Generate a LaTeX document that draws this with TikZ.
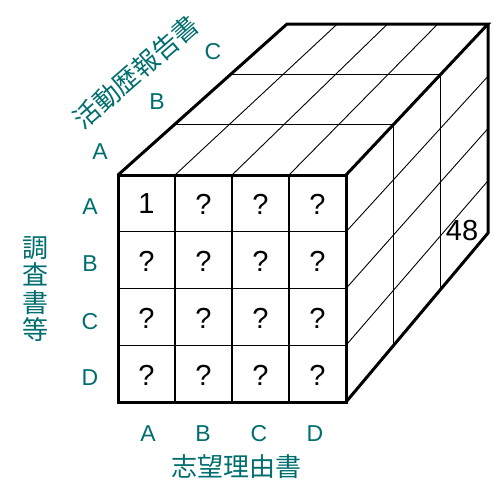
\documentclass[tikz,border=0pt]{standalone}
\usepackage{fontspec}
\setmainfont{Liberation Sans}
\newfontfamily\jpfont{Noto Sans CJK JP}
\usetikzlibrary{calc}
\definecolor{teal}{RGB}{0,110,110}
\tikzset{
  edge/.style={line width=3pt, line join=miter},
  grid/.style={line width=1.4pt},
  thin/.style={line width=0.9pt},
  axislbl/.style={text=teal, font=\fontsize{23}{23}\selectfont, inner sep=0pt},
  axisttl/.style={text=teal, font=\jpfont\fontsize{26}{27.5}\selectfont, inner sep=0pt},
  cell/.style={font=\fontsize{29}{29}\selectfont, inner sep=0pt}
}
\begin{document}
\begin{tikzpicture}[x=1pt,y=-1pt]
\useasboundingbox (0,0) rectangle (497,480);
% corners
\coordinate (FTL) at (118,175);
\coordinate (FTR) at (346,175);
\coordinate (FBR) at (346,402);
\coordinate (FBL) at (118,402);
\coordinate (BTL) at (287,24);
\coordinate (BTR) at (488,24);
\coordinate (BBR) at (488,233);
% front grid
\foreach \k in {1,2,3}{
  \draw[grid] ($(FTL)!\k/4!(FTR)$) -- ($(FBL)!\k/4!(FBR)$);
  \draw[grid] ($(FTL)!\k/4!(FBL)$) -- ($(FTR)!\k/4!(FBR)$);
  % top face diagonals
  \draw[thin] ($(FTL)!\k/4!(FTR)$) -- ($(BTL)!\k/4!(BTR)$);
  % right face diagonals
  \draw[thin] ($(FTR)!\k/4!(FBR)$) -- ($(BTR)!\k/4!(BBR)$);
}
\foreach \j in {1,2}{
  \draw[grid] ($(FTL)!\j/3!(BTL)$) -- ($(FTR)!\j/3!(BTR)$);
  \draw[grid] ($(FTR)!\j/3!(BTR)$) -- ($(FBR)!\j/3!(BBR)$);
}
% outer edges
\draw[edge] (FTL) -- (FTR) -- (FBR) -- (FBL) -- cycle;
\draw[edge] (FTL) -- (BTL) -- (BTR) -- (FTR);
\draw[edge] (BTR) -- (BBR) -- (FBR);
% cell contents
\node[cell] (c11) at (146.5,204) {1};
\foreach \i/\x in {2/203.5,3/260.5,4/317.5}{
  \node[cell] (c1\i) at (\x,204) {?};
}
\foreach \r/\y in {2/261,3/318,4/375}{
  \foreach \i/\x in {1/146.5,2/203.5,3/260.5,4/317.5}{
    \node[cell] (c\r\i) at (\x,\y) {?};
  }
}
\node[cell] (n48) at (462,231) {48};
% left axis
\node[axislbl] (lA) at (90,207) {A};
\node[axislbl] (lB) at (90,264) {B};
\node[axislbl] (lC) at (90,322) {C};
\node[axislbl] (lD) at (90,378) {D};
\node[axisttl, align=center] (ltitle) at (35,289) {調\\査\\書\\等};
% bottom axis
\node[axislbl] (bA) at (148,434) {A};
\node[axislbl] (bB) at (203,434) {B};
\node[axislbl] (bC) at (259,434) {C};
\node[axislbl] (bD) at (315,434) {D};
\node[axisttl] (btitle) at (236,467) {志望理由書};
% depth axis
\node[axislbl] (dA) at (100,152) {A};
\node[axislbl] (dB) at (157,102) {B};
\node[axislbl] (dC) at (213,52) {C};
\node[axisttl, rotate=41] (dtitle) at (136,72) {活動歴報告書};
\end{tikzpicture}
\end{document}
